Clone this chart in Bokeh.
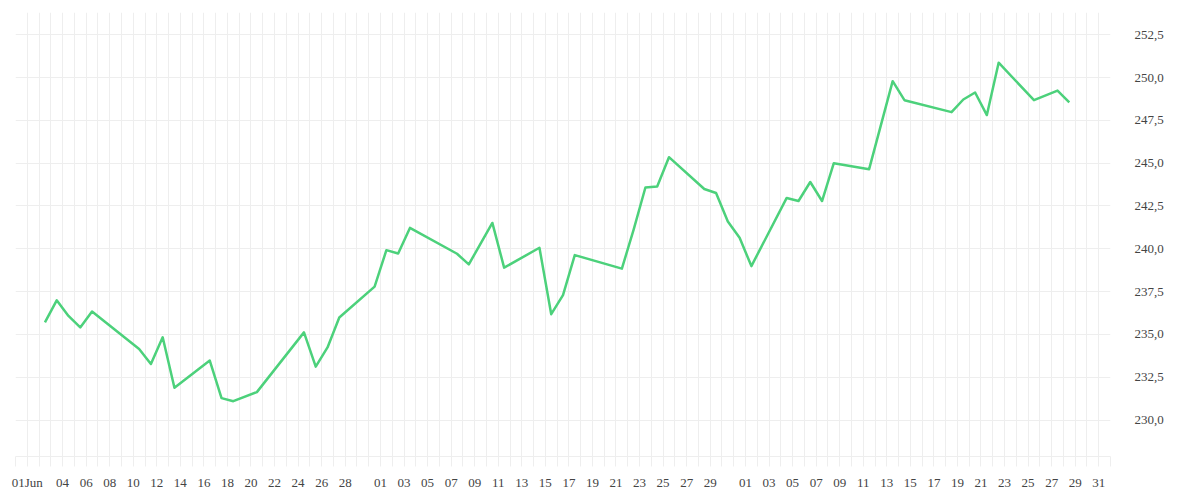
import pandas as pd
from bokeh.plotting import figure
from bokeh.models import Range1d, FixedTicker, ColumnDataSource
from bokeh.embed import file_html
from bokeh.resources import INLINE

# ---- data ----
dates = ["2025-06-02", "2025-06-03", "2025-06-04", "2025-06-05", "2025-06-06",
         "2025-06-10", "2025-06-11", "2025-06-12", "2025-06-13", "2025-06-16",
         "2025-06-17", "2025-06-18", "2025-06-20", "2025-06-24", "2025-06-25",
         "2025-06-26", "2025-06-27", "2025-06-30", "2025-07-01", "2025-07-02",
         "2025-07-03", "2025-07-07", "2025-07-08", "2025-07-10", "2025-07-11",
         "2025-07-14", "2025-07-15", "2025-07-16", "2025-07-17", "2025-07-21",
         "2025-07-22", "2025-07-23", "2025-07-24", "2025-07-25", "2025-07-28",
         "2025-07-29", "2025-07-30", "2025-07-31", "2025-08-01", "2025-08-04",
         "2025-08-05", "2025-08-06", "2025-08-07", "2025-08-08", "2025-08-11",
         "2025-08-13", "2025-08-14", "2025-08-18", "2025-08-19", "2025-08-20",
         "2025-08-21", "2025-08-22", "2025-08-25", "2025-08-27", "2025-08-28"]
values = [235.70, 236.99, 236.08, 235.41, 236.34,
          234.15, 233.27, 234.83, 231.88, 233.47,
          231.28, 231.10, 231.63, 235.12, 233.12,
          234.24, 235.99, 237.79, 239.92, 239.73,
          241.22, 239.71, 239.09, 241.51, 238.90,
          240.06, 236.18, 237.30, 239.63, 238.84,
          241.12, 243.58, 243.64, 245.35, 243.49,
          243.26, 241.60, 240.64, 238.99, 242.97,
          242.79, 243.90, 242.79, 245.00, 244.65,
          249.79, 248.68, 247.98, 248.72, 249.13,
          247.81, 250.87, 248.68, 249.24, 248.55]

label_dates = ["2025-06-01", "2025-06-04", "2025-06-06", "2025-06-08", "2025-06-10",
               "2025-06-12", "2025-06-14", "2025-06-16", "2025-06-18", "2025-06-20",
               "2025-06-22", "2025-06-24", "2025-06-26", "2025-06-28",
               "2025-07-01", "2025-07-03", "2025-07-05", "2025-07-07", "2025-07-09",
               "2025-07-11", "2025-07-13", "2025-07-15", "2025-07-17", "2025-07-19",
               "2025-07-21", "2025-07-23", "2025-07-25", "2025-07-27", "2025-07-29",
               "2025-08-01", "2025-08-03", "2025-08-05", "2025-08-07", "2025-08-09",
               "2025-08-11", "2025-08-13", "2025-08-15", "2025-08-17", "2025-08-19",
               "2025-08-21", "2025-08-23", "2025-08-25", "2025-08-27", "2025-08-29",
               "2025-08-31"]
label_texts = ["01Jun", "04", "06", "08", "10", "12", "14", "16", "18", "20",
               "22", "24", "26", "28",
               "01", "03", "05", "07", "09", "11", "13", "15", "17", "19",
               "21", "23", "25", "27", "29",
               "01", "03", "05", "07", "09", "11", "13", "15", "17", "19",
               "21", "23", "25", "27", "29", "31"]

y_ticks = [230.0, 232.5, 235.0, 237.5, 240.0, 242.5, 245.0, 247.5, 250.0, 252.5]
y_labels = ["230,0", "232,5", "235,0", "237,5", "240,0", "242,5", "245,0", "247,5", "250,0", "252,5"]

axis_start = "2025-05-31"
axis_end = "2025-09-01"

# ---- conversions (day numbers relative to 1 Jun) ----
origin = pd.Timestamp("2025-06-01")
def day_num(s):
    return (pd.Timestamp(s) - origin).days

x_vals = [day_num(d) + 0.5 for d in dates]
x0, x1 = day_num(axis_start), day_num(axis_end)
all_ticks = list(range(x0, x1 + 1))
overrides = {t: "" for t in all_ticks}
for d, t in zip(label_dates, label_texts):
    overrides[day_num(d)] = t

src = ColumnDataSource(dict(x=x_vals, y=values))

FONT = "Liberation Serif"
TXT = "#444444"
GRID = "#eeeeee"

p = figure(width=1192, height=492, output_backend="svg", toolbar_location=None,
           x_axis_location="below", y_axis_location="right",
           min_border_left=15, min_border_right=82, min_border_top=12, min_border_bottom=34)
p.x_range = Range1d(x0, x1)
p.y_range = Range1d(227.87, 253.80)
p.outline_line_color = None
p.background_fill_color = "white"
p.border_fill_color = "white"

xt = FixedTicker(ticks=all_ticks)
xa = p.xaxis[0]
xa.ticker = xt
xa.major_label_overrides = overrides
xa.axis_line_color = GRID
xa.major_tick_line_color = GRID
xa.major_tick_out = 10
xa.major_tick_in = 0
xa.minor_tick_line_color = None
xa.major_label_standoff = 8
xa.major_label_text_font = FONT
xa.major_label_text_font_size = "13px"
xa.major_label_text_color = TXT

yt = FixedTicker(ticks=y_ticks)
ya = p.yaxis[0]
ya.ticker = yt
ya.major_label_overrides = {v: s for v, s in zip(y_ticks, y_labels)}
ya.axis_line_color = None
ya.major_tick_line_color = None
ya.minor_tick_line_color = None
ya.major_label_standoff = 18
ya.major_label_text_font = FONT
ya.major_label_text_font_size = "13px"
ya.major_label_text_color = TXT

p.xgrid.ticker = xt
p.xgrid.grid_line_color = GRID
p.ygrid.ticker = yt
p.ygrid.grid_line_color = GRID

p.line("x", "y", source=src, line_color="#4cd17b", line_width=2.5, line_join="round")

open("out.html", "w").write(file_html(p, INLINE))
